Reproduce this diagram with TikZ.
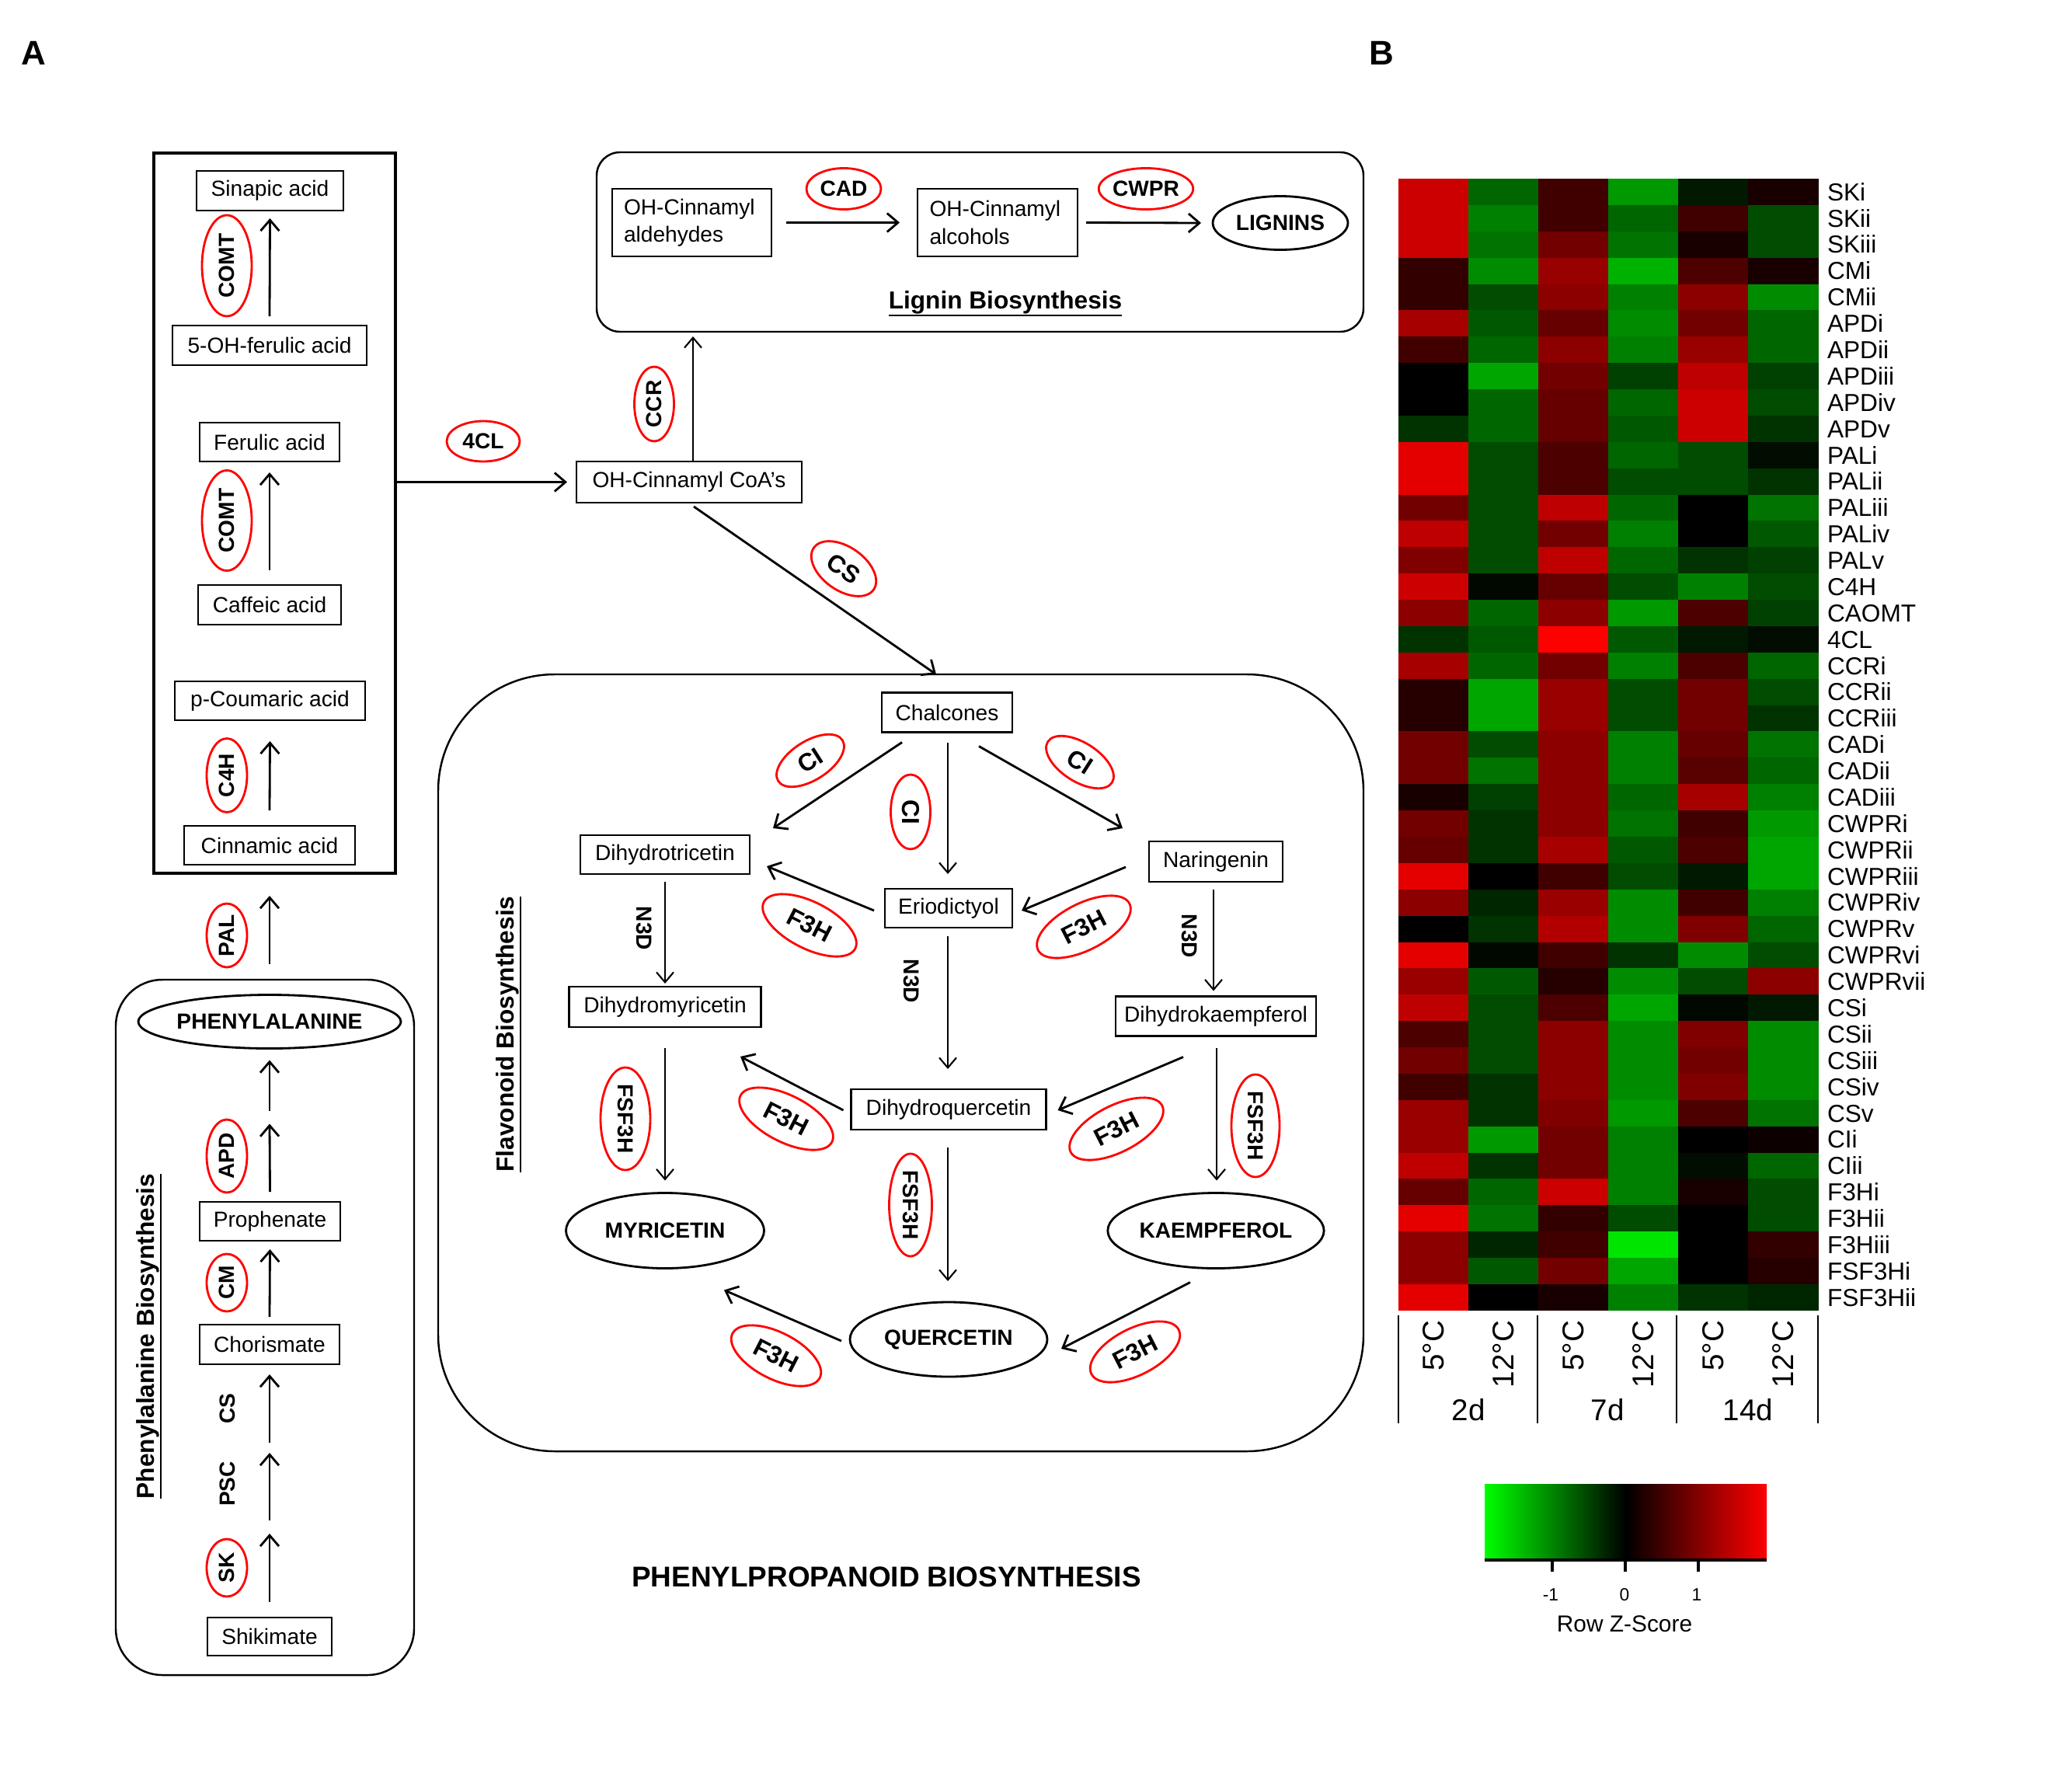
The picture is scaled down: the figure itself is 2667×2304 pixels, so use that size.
\documentclass[tikz,border=0pt]{standalone}
\usepackage{fontspec}
\setmainfont{Liberation Sans}
\usetikzlibrary{arrows.meta,shapes.geometric,calc}
\newcommand\thickul[1]{\vtop{\hbox{#1}\kern0.3pt\hrule height 0.7pt}}
\begin{document}
\begin{tikzpicture}[x=0.1mm,y=-0.1mm,
  every node/.style={inner sep=0pt, outer sep=0pt, font=\fontsize{8}{10}\selectfont},
  sz/.style 2 args={minimum width=#1*0.1mm, minimum height=#2*0.1mm},
  mbox/.style={draw, line width=0.8pt, rectangle},
  prod/.style={draw, line width=0.8pt, ellipse, font=\fontsize{8}{10}\selectfont\bfseries},
  enz/.style={draw=red, line width=0.8pt, ellipse, font=\fontsize{8}{10}\selectfont\bfseries},
  fenz/.style={enz, font=\fontsize{9}{10}\selectfont\bfseries},
  etxt/.style={font=\fontsize{8}{10}\selectfont\bfseries},
  panel/.style={draw, line width=0.7pt},
  arr/.style={-{Straight Barb[length=1.4mm,width=2.4mm]}, line width=0.8pt},
  tarr/.style={-{Straight Barb[length=1.3mm,width=2.2mm]}, line width=0.6pt},
  hlab/.style={font=\fontsize{9}{10}\selectfont, anchor=base west},
  ttl/.style={font=\fontsize{9}{10}\selectfont\bfseries, anchor=base},
  clab/.style={rotate=90, anchor=east, font=\fontsize{11}{12}\selectfont},
  glab/.style={font=\fontsize{11}{12}\selectfont},
]
\useasboundingbox (0,0) rectangle (2667,2304);
\fill[white] (0,0) rectangle (2667,2304);

% panel letters
\node[font=\fontsize{12.5}{14}\selectfont\bfseries] (pA) at (43,68) {A};
\node[font=\fontsize{12.5}{14}\selectfont\bfseries] (pB) at (1778,68) {B};

% panels
\node[panel, line width=0.9pt, sz={311}{927}] (lbox) at (353.5,660.5) {};
\node[panel, rounded corners=6mm, sz={384}{895}] (phebox) at (341,1708.5) {};
\node[panel, rounded corners=3mm, sz={987}{231}] (ligbox) at (1261.5,311.5) {};
\node[panel, rounded corners=15mm, sz={1191}{1000}] (flav) at (1159.5,1368) {};

% left column
\node[mbox, sz={189}{51}] (sin) at (347.5,245.5) {Sinapic acid};
\node[mbox, sz={250}{51}] (ohf) at (347,444.5) {5-OH-ferulic acid};
\node[mbox, sz={180}{50}] (fer) at (347,569) {Ferulic acid};
\node[mbox, sz={184}{51}] (caf) at (347,778.5) {Caffeic acid};
\node[mbox, sz={245}{50}] (pco) at (347.5,902) {p-Coumaric acid};
\node[mbox, sz={220}{50}] (cin) at (347,1088) {Cinnamic acid};
\node[prod, sz={324}{69}] (phe) at (347,1315) {PHENYLALANINE};
\node[mbox, sz={181}{50}] (pro) at (347.5,1572) {Prophenate};
\node[mbox, sz={180}{51}] (cho) at (347,1730.5) {Chorismate};
\node[mbox, sz={160}{49}] (shi) at (347,2106.5) {Shikimate};

\node[enz, rotate=90, sz={130}{64}] (comt1) at (292,342) {COMT};
\node[enz, rotate=90, sz={129}{64}] (comt2) at (292,670) {COMT};
\node[enz, rotate=90, sz={95}{52}] (c4h) at (292,998) {C4H};
\node[enz, rotate=90, sz={82}{52}] (pal) at (292,1204) {PAL};
\node[enz, rotate=90, sz={94}{52}] (apd) at (292,1488) {APD};
\node[enz, rotate=90, sz={74}{52}] (cm) at (292,1651) {CM};
\node[etxt, rotate=90] (csl) at (293,1813) {CS};
\node[etxt, rotate=90] (psc) at (293,1910) {PSC};
\node[enz, rotate=90, sz={74}{52}] (sk) at (292,2018) {SK};
\node[ttl, rotate=90] (phelab) at (198,1720) {\thickul{Phenylalanine Biosynthesis}};

\draw[arr] ($(cin.north)+(0,-20)$) -- ($(pco.south)+(0,27)$);
\draw[arr] ($(caf.north)+(0,-19)$) -- ($(fer.south)+(0,14)$);
\draw[arr] ($(ohf.north)+(0,-12)$) -- ($(sin.south)+(0,10)$);
\draw[arr] ($(phe.north)+(0,-40)$) -- ($(cin.south)+(0,40)$);
\draw[arr] ($(pro.north)+(0,-13)$) -- ($(phe.south)+(0,97)$);
\draw[arr] ($(phe.south)+(0,80)$) -- ($(phe.south)+(0,15)$);
\draw[arr] ($(cho.north)+(0,-10)$) -- ($(pro.south)+(0,11)$);
\draw[arr] ($(shi.north)+(0,-20)$) -- ($(cho.south)+(0,218)$);
\draw[arr] ($(cho.south)+(0,201)$) -- ($(cho.south)+(0,114)$);
\draw[arr] ($(cho.south)+(0,101)$) -- ($(cho.south)+(0,13)$);

% lignin
\node[mbox, sz={205}{87}, text width=17.5mm, align=left] (ald) at (890.5,286.5) {OH-Cinnamyl\\aldehydes};
\node[mbox, sz={206}{87}, text width=17.5mm, align=left] (alc) at (1284,286.5) {OH-Cinnamyl\\alcohols};
\node[prod, sz={174}{69}] (lig) at (1648,287) {LIGNINS};
\node[enz, sz={96}{53}] (cad) at (1086,243) {CAD};
\node[enz, sz={117}{53}] (cwpr) at (1475,243) {CWPR};
\node[ttl] (liglab) at (1294,397) {\thickul{Lignin Biosynthesis}};
\draw[arr] ($(ald.east)+(19,0)$) -- ($(alc.west)+(-23,0)$);
\draw[arr] ($(alc.east)+(11,0)$) -- ($(lig.west)+(-15,0)$);

% CoA
\node[mbox, sz={290}{53}] (coa) at (887,620.5) {OH-Cinnamyl CoA’s};
\node[enz, sz={94}{52}] (c4cl) at (622,568) {4CL};
\node[enz, rotate=90, sz={96}{51}] (ccr) at (842,520) {CCR};
\node[fenz, rotate=-35, sz={94}{56}] (csd) at (1086,732) {CS};
\draw[arr] (lbox.east |- coa.west) -- ($(coa.west)+(-12,0)$);
\draw[tarr] ($(coa.north)+(5,0)$) -- ($(coa.north |- ligbox.south)+(5,6)$);
\draw[arr] ($(coa.south)+(6,5)$) -- ($(flav.north)+(45.5,0)$);

% flavonoids
\node[mbox, sz={168}{51}] (chal) at (1219,917) {Chalcones};
\node[mbox, sz={218}{50}] (dht) at (856,1100) {Dihydrotricetin};
\node[mbox, sz={172}{52}] (nar) at (1565,1109) {Naringenin};
\node[mbox, sz={164}{50}] (eri) at (1221,1169) {Eriodictyol};
\node[mbox, sz={247}{52}] (dhm) at (856,1296) {Dihydromyricetin};
\node[mbox, sz={258}{51}] (dhk) at (1565,1308) {Dihydrokaempferol};
\node[mbox, sz={251}{52}] (dhq) at (1221,1428) {Dihydroquercetin};
\node[prod, sz={255}{97}] (myr) at (856,1584) {MYRICETIN};
\node[prod, sz={255}{97}] (kae) at (1565,1584) {KAEMPFEROL};
\node[prod, sz={254}{96}] (que) at (1221,1724) {QUERCETIN};

\node[fenz, rotate=32.5, sz={98}{50}] (ci1) at (1043,979) {CI};
\node[fenz, rotate=-90, sz={96}{51}] (ci2) at (1172,1045) {CI};
\node[fenz, rotate=-32.5, sz={98}{50}] (ci3) at (1390,981) {CI};
\node[fenz, rotate=-27, sz={132}{60}] (f3h1) at (1042,1191) {F3H};
\node[fenz, rotate=27, sz={132}{60}] (f3h2) at (1395,1193) {F3H};
\node[fenz, rotate=-27, sz={132}{60}] (f3h3) at (1012,1440) {F3H};
\node[fenz, rotate=27, sz={132}{60}] (f3h4) at (1437,1453) {F3H};
\node[fenz, rotate=-27, sz={126}{60}] (f3h5) at (999,1745) {F3H};
\node[fenz, rotate=27, sz={126}{60}] (f3h6) at (1461,1740) {F3H};
\node[enz, rotate=-90, sz={132}{64}] (fsf1) at (805,1440) {FSF3H};
\node[enz, rotate=-90, sz={132}{55}] (fsf2) at (1172,1551) {FSF3H};
\node[enz, rotate=-90, sz={132}{62}] (fsf3) at (1616,1449) {FSF3H};
\node[etxt, rotate=-90] (n3d1) at (829,1195) {N3D};
\node[etxt, rotate=-90] (n3d2) at (1173,1263) {N3D};
\node[etxt, rotate=-90] (n3d3) at (1531,1205) {N3D};
\node[ttl, rotate=90] (flavlab) at (661,1331) {\thickul{Flavonoid Biosynthesis}};

\draw[arr] ($(chal.south)+(-58,13)$) -- ($(dht.north)+(139,-9)$);
\draw[tarr] ($(chal.south)+(1,13)$) -- ($(eri.north)+(-1,-19)$);
\draw[arr] ($(chal.south)+(41,18)$) -- ($(nar.north)+(-120,-17)$);
\draw[arr] ($(eri.west)+(-14,3)$) -- ($(dht.east)+(22,15)$);
\draw[arr] ($(nar.west)+(-30,7)$) -- ($(eri.east)+(12,3)$);
\draw[tarr] ($(dht.south)+(0,10)$) -- ($(dhm.north)+(0,-4)$);
\draw[tarr] ($(eri.south)+(-1,11)$) -- ($(dhq.north)+(-1,-26)$);
\draw[tarr] ($(nar.south)+(-3,10)$) -- ($(dhk.north)+(-3,-7)$);
\draw[tarr] ($(dhm.south)+(0,27)$) -- ($(myr.north)+(0,-16)$);
\draw[arr] ($(dhq.west)+(-10,1)$) -- ($(dhm.south)+(97,38)$);
\draw[arr] ($(dhk.south)+(-42,27)$) -- ($(dhq.east)+(15,1)$);
\draw[tarr] ($(dhk.south)+(1,15)$) -- ($(kae.north)+(1,-16)$);
\draw[tarr] ($(dhq.south)+(-1,23)$) -- ($(que.north)+(-1,-27)$);
\draw[arr] ($(que.west)+(-11,2)$) -- ($(myr.south)+(76,28)$);
\draw[arr] ($(kae.south)+(-33,18)$) -- ($(que.east)+(18,12)$);

\node[font=\fontsize{10.5}{12}\selectfont\bfseries] (ppb) at (1141,2030) {PHENYLPROPANOID BIOSYNTHESIS};

% heatmap
\foreach \vals [count=\r from 0] in {
 {8,-4,2.5,-6,-1,1},
 {8,-5,2.5,-4,2.5,-3},
 {8,-4.5,4.5,-4.5,1,-3},
 {2,-5.5,6,-7,3,1},
 {2,-3,5.5,-5,5.5,-5.5},
 {6.5,-3.5,4,-5.5,4.5,-4},
 {2.5,-4,5.5,-5,6,-4},
 {0,-6.5,4.5,-2.5,7.5,-2.5},
 {0,-4,4,-4,8,-3},
 {-2,-4,4,-3.5,8,-2},
 {9,-3,3,-4,-3,-0.5},
 {9,-3,3,-3,-3,-2},
 {4.5,-3,7.5,-4,0,-4.5},
 {7.5,-3,4.5,-5,0,-3.5},
 {5,-3,7.5,-4,-2,-2.5},
 {8,-0.3,4,-3,-5,-3},
 {5.5,-4,5.5,-6,3,-2.5},
 {-2,-3.5,10,-3.5,-1,-0.5},
 {6.5,-4,4.5,-5,3,-4},
 {1.5,-6.5,6,-3,4.5,-3},
 {1.5,-6.5,6,-3,4.5,-2},
 {4.5,-3,5.5,-5,4,-4.5},
 {4.5,-4.5,5.5,-5,3.5,-4},
 {1,-2.5,5.5,-4,6.5,-5},
 {4.5,-2,5.5,-4.5,2.5,-6},
 {4,-2,6.5,-3.5,3,-6.5},
 {9,0,2.5,-3,-1,-6.5},
 {5.5,-1.5,6,-5.5,2.5,-5},
 {0,-2,7,-5.5,5,-4},
 {9,-0.3,2.5,-2,-5.5,-3},
 {6,-3.5,1.5,-5.5,-3,5.5},
 {7.5,-3,3,-6.5,-0.3,-1},
 {3,-3,5.5,-5.5,5,-5.5},
 {4.5,-3,5.5,-5.5,4.5,-5.5},
 {2.5,-2,5.5,-5.5,5,-5.5},
 {6,-2,5,-6,3,-4.5},
 {6,-6,4.5,-5,0,0.5},
 {7.5,-2,4.5,-5,-0.5,-4},
 {4,-4,8,-5,1,-3},
 {9,-4.5,2,-3,0,-3},
 {5.5,-1.5,2.5,-9,0,2},
 {5.5,-3.5,4.5,-6.5,0,1.5},
 {9,0,1,-5,-2,-1.5}}{
  \foreach \v [count=\c from 0] in \vals {
    \pgfmathsetmacro\pc{abs(\v)*10}
    \ifdim \v pt<0pt \colorlet{hmc}{green!\pc!black}\else\colorlet{hmc}{red!\pc!black}\fi
    \fill[hmc] (1800+\c*90,230+\r*33.88) rectangle ++(90.6,34.3);
  }
}
\foreach \n [count=\r from 0] in {SKi,SKii,SKiii,CMi,CMii,APDi,APDii,APDiii,APDiv,APDv,PALi,PALii,PALiii,PALiv,PALv,C4H,CAOMT,4CL,CCRi,CCRii,CCRiii,CADi,CADii,CADiii,CWPRi,CWPRii,CWPRiii,CWPRiv,CWPRv,CWPRvi,CWPRvii,CSi,CSii,CSiii,CSiv,CSv,CIi,CIii,F3Hi,F3Hii,F3Hiii,FSF3Hi,FSF3Hii}{
  \node[hlab] (hl\r) at (2352,258.2+\r*33.88) {\n};
}
\foreach \lx in {1800,1979,2158,2340} \draw[line width=0.8pt] (\lx,1693) -- (\lx,1832);
\node[clab] (cl1) at (1845,1700) {5°C};
\node[clab] (cl2) at (1935,1700) {12°C};
\node[clab] (cl3) at (2025,1700) {5°C};
\node[clab] (cl4) at (2115,1700) {12°C};
\node[clab] (cl5) at (2205,1700) {5°C};
\node[clab] (cl6) at (2295,1700) {12°C};
\node[glab] (g1) at (1890,1815) {2d};
\node[glab] (g2) at (2069,1815) {7d};
\node[glab] (g3) at (2250,1815) {14d};

% colour key
\shade[left color=green, right color=red, middle color=black] (1911,1910) rectangle (2274,2008);
\draw[line width=1.2pt] (1911,2008) -- (2274,2008);
\foreach \tx in {1998,2092,2186} \draw[line width=0.9pt] (\tx,2008) -- (\tx,2023);
\node[font=\fontsize{6.5}{8}\selectfont] (k1) at (1996,2053) {-1};
\node[font=\fontsize{6.5}{8}\selectfont] (k2) at (2091,2053) {0};
\node[font=\fontsize{6.5}{8}\selectfont] (k3) at (2184,2053) {1};
\node[font=\fontsize{8.5}{10}\selectfont] (kt) at (2091,2090) {Row Z-Score};
\end{tikzpicture}
\end{document}
